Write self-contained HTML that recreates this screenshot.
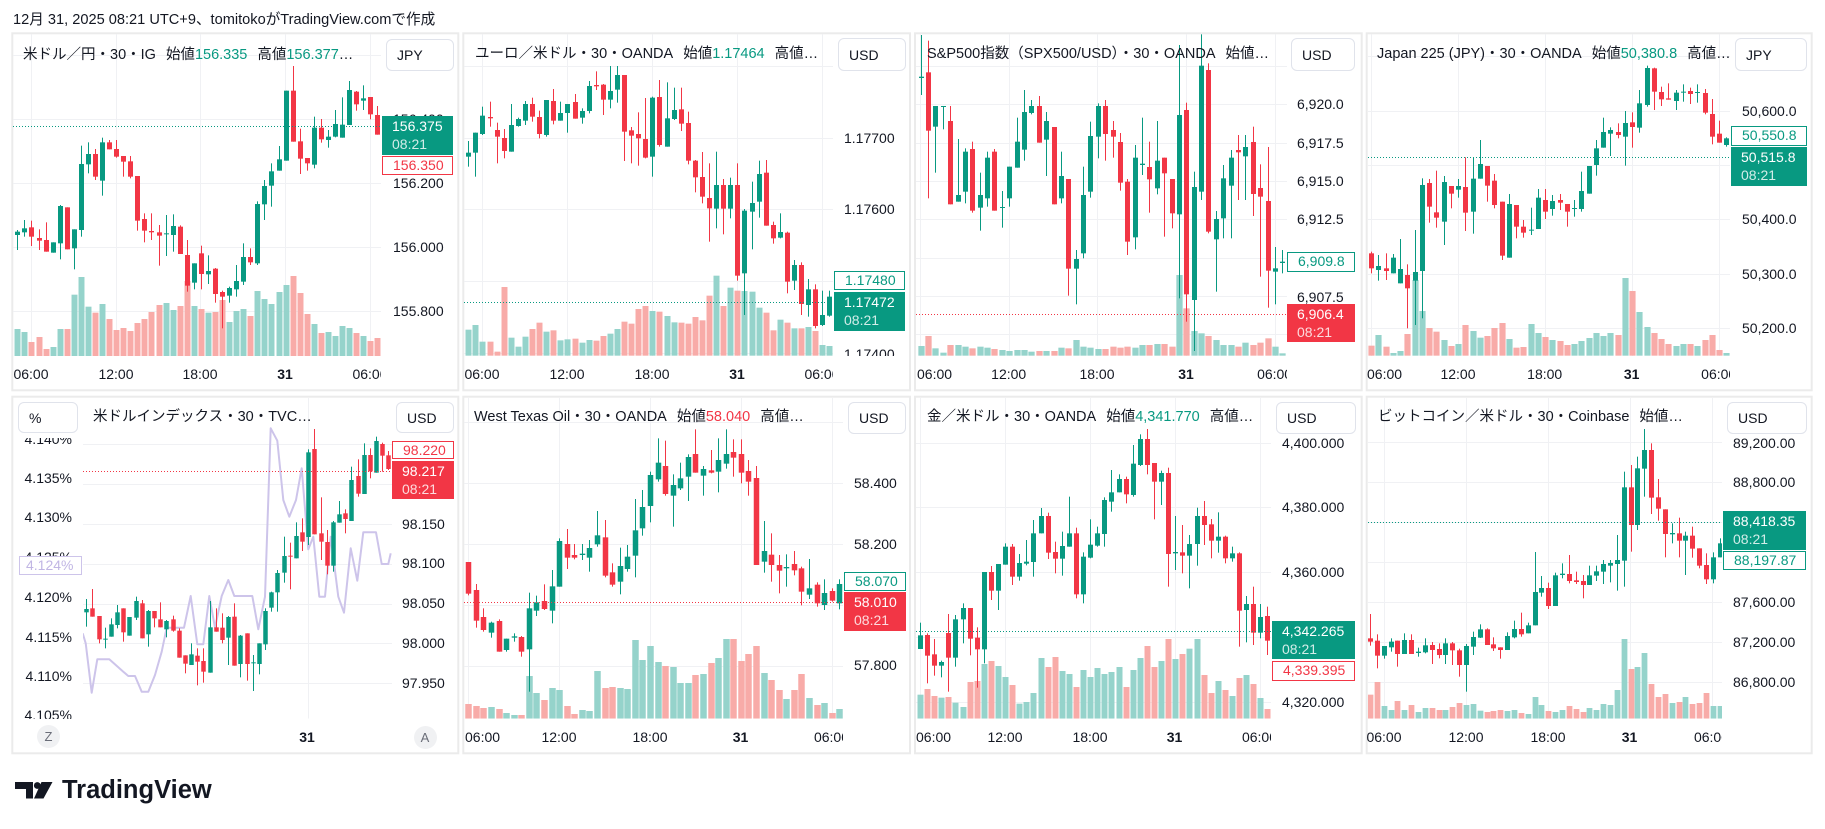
<!DOCTYPE html>
<html><head><meta charset="utf-8">
<style>
*{box-sizing:border-box}
body{margin:0;width:1825px;height:829px;position:relative;overflow:hidden;background:#fff;font-family:"Liberation Sans","Noto Sans CJK JP",sans-serif;color:#131722}
.a{position:absolute;white-space:nowrap}
.t{font-size:14px;line-height:16px}
.tt{position:absolute;white-space:nowrap;font-size:14.5px;line-height:16px;color:#131722}
.g{color:#089981}.r{color:#f23645}
.sp{display:inline-block;width:10px}
.cb{position:absolute;background:#fff;border:1px solid #e0e3eb;border-radius:6px;font-size:14px;line-height:16px;padding-left:10px;display:flex;align-items:center}
.clip{position:absolute;overflow:hidden}
.clip div{position:absolute;white-space:nowrap;font-size:14px;line-height:16px}
.tm div{width:60px;text-align:center}
.pb{position:absolute;font-size:14px;line-height:18px;padding-left:10px;white-space:nowrap}
.fill{color:#fff;padding-top:1px}
.fill span{color:rgba(255,255,255,.82)}
.ol{background:#fff;line-height:17px}
.zc{position:absolute;width:23px;height:23px;border-radius:50%;background:#f0f1f3;color:#6a6d78;font-size:13px;line-height:23px;text-align:center}
</style></head>
<body>
<svg id="c" class="a" style="left:0;top:0" width="1825" height="829" xmlns="http://www.w3.org/2000/svg">
<defs id="df"></defs>
<g fill="none" stroke="#ebebeb" stroke-width="2">
<rect x="12.3" y="33.3" width="446" height="357"/>
<rect x="463.3" y="33.3" width="446.7" height="357"/>
<rect x="915" y="33.3" width="446.7" height="357"/>
<rect x="1366.7" y="33.3" width="445" height="357"/>
<rect x="12.3" y="396.7" width="446" height="356.6"/>
<rect x="463.3" y="396.7" width="446.7" height="356.6"/>
<rect x="915" y="396.7" width="446.7" height="356.6"/>
<rect x="1366.7" y="396.7" width="445" height="356.6"/>
</g>
</svg>

<div class="a t" style="left:13px;top:12px;font-size:14.6px">12月 31, 2025 08:21 UTC+9、tomitokoがTradingView.comで作成</div>

<!-- titles -->
<div class="tt" style="left:23px;top:46.5px">米ドル／円・30・IG<span class="sp"></span>始値<span class="g">156.335</span><span class="sp"></span>高値<span class="g">156.377</span>…</div>
<div class="tt" style="left:475px;top:46px">ユーロ／米ドル・30・OANDA<span class="sp"></span>始値<span class="g">1.17464</span><span class="sp"></span>高値…</div>
<div class="tt" style="left:927px;top:46px">S&amp;P500指数（SPX500/USD）・30・OANDA<span class="sp"></span>始値…</div>
<div class="tt" style="left:1377px;top:46px">Japan 225 (JPY)・30・OANDA<span class="sp"></span>始値<span class="g">50,380.8</span><span class="sp"></span>高値…</div>
<div class="tt" style="left:93px;top:409px">米ドルインデックス・30・TVC…</div>
<div class="tt" style="left:474px;top:409px">West Texas Oil・30・OANDA<span class="sp"></span>始値<span class="r">58.040</span><span class="sp"></span>高値…</div>
<div class="tt" style="left:927px;top:409px">金／米ドル・30・OANDA<span class="sp"></span>始値<span class="g">4,341.770</span><span class="sp"></span>高値…</div>
<div class="tt" style="left:1378px;top:409px">ビットコイン／米ドル・30・Coinbase<span class="sp"></span>始値…</div>

<!-- currency boxes -->
<div class="cb" style="left:386px;top:39px;width:68px;height:32px">JPY</div>
<div class="cb" style="left:838px;top:38px;width:68px;height:33px">USD</div>
<div class="cb" style="left:1291px;top:38px;width:64px;height:33px">USD</div>
<div class="cb" style="left:1735px;top:38px;width:72px;height:33px">JPY</div>
<div class="cb" style="left:18px;top:402px;width:60px;height:31px">%</div>
<div class="cb" style="left:396px;top:402px;width:58px;height:31px">USD</div>
<div class="cb" style="left:848px;top:402px;width:58px;height:32px">USD</div>
<div class="cb" style="left:1276px;top:402px;width:80px;height:32px">USD</div>
<div class="cb" style="left:1727px;top:402px;width:80px;height:32px">USD</div>

<!-- price axis labels -->
<div class="clip" style="left:382px;top:74px;width:76px;height:282px">
<div style="left:11px;top:36.7px">156.400</div><div style="left:11px;top:100.7px">156.200</div><div style="left:11px;top:164.7px">156.000</div><div style="left:11px;top:228.7px">155.800</div></div>
<div class="clip" style="left:834px;top:74px;width:76px;height:282px">
<div style="left:10px;top:55.7px">1.17700</div><div style="left:10px;top:127.3px">1.17600</div><div style="left:10px;top:199px">1.17500</div><div style="left:10px;top:272px">1.17400</div></div>
<div class="clip" style="left:1288px;top:74px;width:74px;height:282px">
<div style="left:9px;top:22.3px">6,920.0</div><div style="left:9px;top:60.7px">6,917.5</div><div style="left:9px;top:99px">6,915.0</div><div style="left:9px;top:137.3px">6,912.5</div><div style="left:9px;top:175.7px">6,910.0</div><div style="left:9px;top:214.7px">6,907.5</div></div>
<div class="clip" style="left:1731px;top:74px;width:81px;height:282px">
<div style="left:11px;top:28.7px">50,600.0</div><div style="left:11px;top:83px">50,500.0</div><div style="left:11px;top:137.3px">50,400.0</div><div style="left:11px;top:191.7px">50,300.0</div><div style="left:11px;top:246px">50,200.0</div></div>
<div class="clip" style="left:393px;top:438px;width:65px;height:280.5px">
<div style="left:9px;top:78.3px">98.150</div><div style="left:9px;top:117.3px">98.100</div><div style="left:9px;top:157.3px">98.050</div><div style="left:9px;top:197.3px">98.000</div><div style="left:9px;top:237.3px">97.950</div></div>
<div class="clip" style="left:13px;top:438px;width:70px;height:280.5px">
<div style="right:11px;top:-7px">4.140%</div><div style="right:11px;top:31.7px">4.135%</div><div style="right:11px;top:71.3px">4.130%</div><div style="right:11px;top:111px">4.125%</div><div style="right:11px;top:150.7px">4.120%</div><div style="right:11px;top:190.7px">4.115%</div><div style="right:11px;top:230px">4.110%</div><div style="right:11px;top:269px">4.105%</div></div>
<div class="clip" style="left:844px;top:438px;width:66px;height:280.5px">
<div style="left:10px;top:37.3px">58.400</div><div style="left:10px;top:98.3px">58.200</div><div style="left:10px;top:159px">58.000</div><div style="left:10px;top:219.3px">57.800</div></div>
<div class="clip" style="left:1272px;top:438px;width:90px;height:280.5px">
<div style="left:10px;top:-3.3px">4,400.000</div><div style="left:10px;top:61.3px">4,380.000</div><div style="left:10px;top:126.3px">4,360.000</div><div style="left:10px;top:191px">4,340.000</div><div style="left:10px;top:255.7px">4,320.000</div></div>
<div class="clip" style="left:1723px;top:438px;width:89px;height:280.5px">
<div style="left:10px;top:-3.3px">89,200.00</div><div style="left:10px;top:36.3px">88,800.00</div><div style="left:10px;top:76px">88,400.00</div><div style="left:10px;top:116px">88,000.00</div><div style="left:10px;top:155.7px">87,600.00</div><div style="left:10px;top:195.7px">87,200.00</div><div style="left:10px;top:235.7px">86,800.00</div></div>

<!-- time labels -->
<div class="clip tm" style="left:12px;top:365.5px;width:369px;height:18px">
<div style="left:-11px">06:00</div><div style="left:74px">12:00</div><div style="left:158px">18:00</div><div style="left:243px;font-weight:bold">31</div><div style="left:328px">06:00</div></div>
<div class="clip tm" style="left:463px;top:366px;width:370px;height:18px">
<div style="left:-11px">06:00</div><div style="left:74px">12:00</div><div style="left:159px">18:00</div><div style="left:244px;font-weight:bold">31</div><div style="left:329px">06:00</div></div>
<div class="clip tm" style="left:915px;top:366px;width:372px;height:18px">
<div style="left:2px;text-align:left">06:00</div><div style="left:63.7px">12:00</div><div style="left:152px">18:00</div><div style="left:241px;font-weight:bold">31</div><div style="left:329.6px">06:00</div></div>
<div class="clip tm" style="left:1367px;top:366px;width:363px;height:18px">
<div style="left:0;text-align:left">06:00</div><div style="left:61px">12:00</div><div style="left:147.7px">18:00</div><div style="left:234.7px;font-weight:bold">31</div><div style="left:321.7px">06:00</div></div>
<div class="clip tm" style="left:83px;top:729px;width:309px;height:18px">
<div style="left:194px;font-weight:bold">31</div></div>
<div class="clip tm" style="left:463px;top:729px;width:380px;height:18px">
<div style="left:2px;text-align:left">06:00</div><div style="left:66px">12:00</div><div style="left:157px">18:00</div><div style="left:247.5px;font-weight:bold">31</div><div style="left:338.5px">06:00</div></div>
<div class="clip tm" style="left:916px;top:729px;width:355px;height:18px">
<div style="left:0;text-align:left">06:00</div><div style="left:59px">12:00</div><div style="left:144px">18:00</div><div style="left:228.5px;font-weight:bold">31</div><div style="left:313.5px">06:00</div></div>
<div class="clip tm" style="left:1367px;top:729px;width:355px;height:18px">
<div style="left:-13px">06:00</div><div style="left:69px">12:00</div><div style="left:151px">18:00</div><div style="left:232.5px;font-weight:bold">31</div><div style="left:314.5px">06:00</div></div>

<div class="zc" style="left:37px;top:725px">Z</div>
<div class="zc" style="left:413.5px;top:725.5px">A</div>

<!-- price boxes -->
<div class="pb fill" style="left:382px;top:116px;width:71px;height:39px;background:#089981">156.375<br><span>08:21</span></div>
<div class="pb ol" style="left:382px;top:156px;width:71px;height:19px;border:1px solid #f23645;color:#f23645">156.350</div>
<div class="pb ol" style="left:834px;top:271px;width:71px;height:19px;border:1px solid #089981;color:#089981">1.17480</div>
<div class="pb fill" style="left:834px;top:292px;width:71px;height:39px;background:#089981">1.17472<br><span>08:21</span></div>
<div class="pb ol" style="left:1287px;top:252px;width:68px;height:20px;border:1px solid #089981;color:#089981">6,909.8</div>
<div class="pb fill" style="left:1287px;top:304px;width:68px;height:38px;background:#f23645">6,906.4<br><span>08:21</span></div>
<div class="pb ol" style="left:1731px;top:126px;width:76px;height:20px;border:1px solid #089981;color:#089981">50,550.8</div>
<div class="pb fill" style="left:1731px;top:147px;width:76px;height:39px;background:#089981">50,515.8<br><span>08:21</span></div>
<div class="pb ol" style="left:392px;top:441px;width:62px;height:18px;border:1px solid #f23645;color:#f23645;line-height:16px">98.220</div>
<div class="pb fill" style="left:392px;top:461px;width:62px;height:38px;background:#f23645">98.217<br><span>08:21</span></div>
<div class="pb ol" style="left:19px;top:556px;width:63px;height:19px;border:1px solid #cdc4ea;color:#c1b6e4;padding-left:6px">4.124%</div>
<div class="pb ol" style="left:844px;top:572px;width:62px;height:19px;border:1px solid #089981;color:#089981">58.070</div>
<div class="pb fill" style="left:844px;top:592px;width:62px;height:39px;background:#f23645">58.010<br><span>08:21</span></div>
<div class="pb fill" style="left:1272px;top:621px;width:83px;height:38px;background:#089981">4,342.265<br><span>08:21</span></div>
<div class="pb ol" style="left:1272px;top:661px;width:83px;height:20px;border:1px solid #f23645;color:#f23645">4,339.395</div>
<div class="pb fill" style="left:1723px;top:511px;width:83px;height:39px;background:#089981">88,418.35<br><span>08:21</span></div>
<div class="pb ol" style="left:1723px;top:551px;width:83px;height:19px;border:1px solid #089981;color:#089981">88,197.87</div>

<!-- logo -->
<svg class="a" style="left:15px;top:782px" width="40" height="17" xmlns="http://www.w3.org/2000/svg">
<path d="M0 0H18V16.5H11V7H0Z" fill="#131722"/><circle cx="22.3" cy="3.5" r="3.4" fill="#131722"/><path d="M26.5 0H37.5L28.5 16.5H19Z" fill="#131722"/></svg>
<div class="a" style="left:62px;top:777.5px;font-size:25.5px;line-height:25px;font-weight:bold;color:#131722">TradingView</div>

<script>
(function(){
const NS='http://www.w3.org/2000/svg';
const svg=document.getElementById('c');
const defs=document.getElementById('df');
function el(tag,a,par){const e=document.createElementNS(NS,tag);for(const k in a)e.setAttribute(k,a[k]);(par||svg).appendChild(e);return e;}
const G='#089981',R='#f23645',VG='#95d3cb',VR='#f8aba8';
const P=[
{ox:0,oy:0,x0:52,st:21.18,bw:5,vb:1068,clip:[13,34,381,356.3],
hg:[54.7,118.7,182.7,246.7,310.7],vg:[31,116,200,285,370],dl:[126,G],
c:`g695,705,690,750 g685,697,660,710 r682,710,662,738 r714,722,688,750 r720,755,667,755 g727,758,727,758 g618,730,615,778 r622,748,622,748 g688,745,688,808 g492,690,437,710 g462,493,427,520 r462,530,447,540 g427,542,413,587 r427,448,420,448 r447,470,420,473 r468,485,468,530 r484,530,468,535 r528,662,528,692 r657,692,640,727 r693,697,640,720 r697,707,675,797 g700,702,645,768 g678,705,643,755 r680,762,676,762 r765,857,720,875 g790,848,790,868 r760,822,737,868 g813,823,766,852 r806,882,804,908 r876,890,872,985 g864,887,860,908 g843,868,795,890 g771,845,730,855 r771,787,745,795 g612,790,604,795 g558,613,540,660 g514,557,490,620 g478,512,438,512 g272,482,272,482 r272,425,198,425 r424,476,386,522 r474,490,474,512 g383,494,350,505 r383,418,357,428 g410,420,390,443 g372,410,330,412 g374,413,292,413 g270,375,243,375 r275,313,273,332 g295,302,256,330 r291,343,291,358 r345,404,318,404`,
v:`987 996 1026 1011 1047 1041 987 987 884 831 920 938 912 957 990 984 993 969 957 936 915 909 930 918 843 918 927 938 936 900 966 933 927 948 873 897 912 876 855 828 879 942 972 999 996 1008 978 984 999 1008 1023 1014`},
{ox:440,oy:25,x0:85,st:21.24,bw:5,vb:992,clip:[464,34,833,356],
hg:[66,137.7,209.3,281,352.7],vg:[482,567,652,737,822],dl:[302.3,G],
c:`g383,395,348,425 g323,383,323,455 g272,327,245,330 r276,280,230,305 r315,335,293,415 r339,378,312,400 g300,380,237,380 g282,303,278,305 g237,287,228,300 r237,275,218,290 r276,327,257,340 g225,330,225,335 r228,287,192,298 g264,287,230,287 g237,264,237,323 r231,281,207,281 g258,278,250,296 g183,258,168,265 r180,184,139,195 r179,224,177,270 g198,224,123,250 g150,194,123,233 r150,320,150,408 r316,332,306,415 r327,340,262,422 r342,398,219,400 g218,395,215,455 r216,360,165,365 g280,365,172,365 g255,282,188,285 r253,296,188,318 r294,407,260,418 r407,457,405,502 r456,515,381,535 r519,550,415,650 g480,551,380,610 r480,551,462,628 g480,551,458,580 r480,752,415,767 g557,745,552,870 g534,560,470,673 g447,530,407,578 r443,602,405,602 r600,640,590,656 g621,638,565,640 r623,770,620,805 g720,767,705,795 r720,837,712,870 g793,840,762,875 r793,903,778,910 g870,900,797,903 g815,872,797,875`,
v:`914 900 950 950 980 786 938 965 935 912 893 920 916 946 943 941 953 945 947 933 926 912 890 896 852 843 858 860 873 892 893 896 876 886 812 752 843 788 797 798 800 848 863 916 884 893 910 910 906 918 960 963`},
{ox:900,oy:25,x0:62,st:22.14,bw:5,vb:992,clip:[916,34,1287,356],
hg:[66,104.3,142.7,181,219.3,257.7,296,334.3],vg:[920.4,1008.7,1097,1186,1274.6],dl:[314,R],
c:`g155,159,30,210 r142,317,47,520 g243,305,243,443 g243,246,243,313 r288,538,243,538 g510,530,342,530 g380,500,370,535 r372,557,350,563 g510,548,443,617 g398,520,380,545 r380,557,372,557 g546,549,498,608 g425,520,425,545 g350,428,278,428 g261,374,195,407 g243,264,225,268 r243,353,213,353 g288,344,261,453 r306,538,306,538 g453,520,380,535 r462,731,462,812 g702,731,675,838 g510,685,425,700 g333,500,290,518 g243,335,235,400 r243,327,225,407 r315,335,288,398 r351,473,324,497 r470,650,462,690 g398,637,360,673 g416,420,278,450 r426,463,350,563 g407,490,288,508 r398,445,398,635 r462,565,462,610 g270,568,60,820 r255,808,233,890 g486,825,440,978 g122,500,28,525 r135,620,115,625 g582,643,558,800 g460,580,420,640 g398,482,375,640 r375,382,330,525 g366,394,330,525 r351,507,305,573 r489,515,418,755 r528,737,366,848 g730,740,666,838 g710,714,675,745`,
v:`963 933 970 983 960 960 965 970 965 968 972 975 978 975 975 980 978 978 978 968 970 945 965 968 972 972 965 968 965 968 960 960 957 957 965 750 850 918 925 933 945 960 960 965 953 960 953 940 965 985`},
{ox:1360,oy:25,x0:33,st:21.76,bw:5,vb:992,clip:[1368,34,1730,356],
hg:[56.3,110.7,165,219.3,273.7,328],vg:[1371,1458,1544.7,1631.7,1718.7],dl:[157.3,G],
c:`r685,730,680,745 g723,735,690,767 r730,738,685,765 g698,745,687,745 g732,775,642,775 r750,790,718,910 g741,767,615,900 g480,738,460,880 r474,545,462,593 r562,578,437,608 g471,590,453,660 r483,506,483,550 g483,494,462,518 r486,563,397,618 g461,560,397,626 g417,461,345,461 r423,482,423,530 r467,540,447,550 r530,692,530,705 g537,698,507,698 r540,605,540,640 r605,623,585,638 g614,617,548,630 g518,612,492,612 r525,560,492,582 g528,552,510,572 r525,533,507,555 r537,560,537,605 g549,552,525,575 g498,552,440,560 g423,506,423,506 g370,420,345,452 g321,368,278,368 g315,326,307,393 r321,330,295,340 g294,335,258,422 r292,306,262,368 g235,308,195,323 g129,240,122,245 r130,200,128,255 r201,223,185,243 r220,224,175,224 g203,228,195,255 g200,203,178,230 r198,207,188,237 g201,204,178,233 r204,263,192,268 r267,335,222,358 r326,353,287,353 g340,360,337,365`,
v:`962 930 965 984 978 927 765 858 909 920 945 963 957 900 918 938 933 909 894 942 968 966 897 924 936 945 948 960 957 948 939 924 933 924 930 759 798 861 906 924 942 957 963 957 957 963 945 930 975 984`},
{ox:0,oy:390,x0:259,st:18.49,bw:4.5,vb:0,clip:[83,398,392,718.6],
hg:[444.3,484.3,524.3,564.3,604.3,643.3,683.3],vg:[308],dl:[471,R],
c:`g657,667,627,710 r655,680,597,680 r678,748,678,760 g746,749,713,775 g703,740,685,740 g667,705,645,715 r655,727,655,755 g681,737,681,737 g633,683,620,690 r640,745,630,745 g663,733,660,770 r663,685,663,712 r688,712,637,712 g693,718,690,742 r688,722,677,725 r722,803,715,803 r796,821,796,850 g793,825,760,825 r797,815,775,886 r813,845,775,878 g712,848,633,848 r712,725,655,725 r713,750,670,760 g681,743,678,825 r680,827,640,827 g737,822,735,862 r730,822,730,872 g817,820,795,903 g760,822,760,853 g663,763,655,780 g607,653,605,665 g549,607,540,665 g498,548,440,578 r497,500,458,598 g438,505,397,505 r427,455,385,483 g187,441,178,465 r177,433,117,433 r430,455,322,510 r456,527,420,553 g397,527,393,545 g373,398,333,398 r370,387,358,430 g270,393,230,393 r258,311,208,320 g195,312,160,312 r195,244,175,265 g153,248,140,248 r162,197,158,245 r196,237,183,240`,
v:'',
line:[248,730,257,760,275,908,292,808,328,808,370,845,385,858,405,858,425,905,445,905,465,855,485,785,500,713,552,713,572,618,592,763,610,763,628,618,645,713,665,618,685,570,703,618,757,618,775,718,795,620,812,115,832,152,850,330,868,380,888,330,905,235,925,478,940,440,958,620,975,620,992,440,1015,620,1032,668,1052,475,1072,572,1090,427,1128,427,1145,522,1165,522,1172,490]},
{ox:450,oy:390,x0:55,st:22.71,bw:5.5,vb:986,clip:[464,398,843,718.6],
hg:[422.3,483.3,544.3,605.3,666.3],vg:[468,559,650,740.5,831.5],dl:[602.3,R],
c:`r516,611,516,616 r600,692,582,713 r681,720,655,725 g698,728,695,743 r693,785,688,785 g746,780,746,785 g739,743,730,755 r741,785,738,800 g655,778,608,905 g637,662,617,678 r633,657,583,660 g589,662,540,700 g453,590,445,590 r462,503,417,537 r495,503,462,508 g491,495,462,510 g474,503,450,545 g436,463,363,470 r442,557,390,562 r547,584,520,590 g528,575,473,613 g500,537,465,545 g421,497,327,562 g351,415,300,437 g255,348,245,397 g218,268,145,275 r228,312,152,317 g285,317,253,410 g265,295,218,300 g201,260,193,333 r192,248,118,248 g237,257,228,317 r241,248,180,250 g210,245,145,307 g192,221,118,236 r186,203,148,260 r192,248,148,280 r243,275,210,317 r264,525,228,525 g483,515,393,548 r494,525,430,575 r525,542,495,610 g531,535,493,590 r522,541,483,556 r535,605,530,646 g595,614,507,627 r584,640,577,650 g609,645,568,660 r603,632,595,635 g582,640,568,658`,
v:`942 948 954 951 957 969 975 975 858 909 930 894 900 948 972 960 963 843 894 891 894 897 750 810 768 816 828 831 879 879 855 852 819 804 747 747 813 792 768 849 870 900 927 900 852 924 945 939 969 957`},
{ox:905,oy:390,x0:45,st:21.27,bw:5,vb:986,clip:[916,398,1271,718.6],
hg:[442.7,507.3,572.3,637.3,702],vg:[920,1005,1090,1174.5,1259.5],dl:[631,G],
c:`g736,777,698,777 r735,797,730,880 r793,827,747,857 g816,827,812,862 r729,803,672,905 g688,803,675,830 g654,688,640,760 r654,746,654,796 r743,778,712,893 g546,778,546,820 r546,602,528,630 g522,602,522,660 g470,524,460,524 r470,560,462,585 g519,560,492,572 g515,521,450,526 g430,516,390,560 g378,430,354,430 r378,488,368,507 r486,506,455,550 g468,506,425,557 g430,470,320,470 r430,613,413,625 g500,613,487,640 g464,503,388,505 g430,467,410,470 g330,432,322,470 g307,335,240,365 g267,307,253,307 r267,313,260,340 g221,315,165,320 g147,225,133,228 r147,225,117,253 r219,275,219,388 g249,275,242,345 r249,492,233,590 g486,490,378,540 r487,497,405,550 g462,497,435,595 g378,462,353,527 r378,405,333,465 r403,452,387,505 g440,452,367,488 r440,505,437,520 g490,505,470,515 r490,662,487,770 g642,660,618,757 r642,728,590,765 g681,728,642,745 r678,752,650,795`,
v:`914 897 918 923 921 938 951 876 873 822 813 828 861 885 941 936 909 804 831 801 843 852 891 840 861 834 852 846 831 891 840 804 768 831 813 747 807 792 776 747 855 909 873 900 918 864 855 882 924 957`},
{ox:1360,oy:390,x0:30,st:20.57,bw:5,vb:986,clip:[1368,398,1722,718.6],
hg:[442,482,522,562,602,642,682],vg:[1384,1466,1548,1629.5,1711.5],dl:[521.7,G],
c:`r745,755,672,767 r752,797,733,835 g768,797,768,806 g755,772,745,785 r752,792,752,830 g750,792,730,792 r750,792,733,792 g785,789,773,800 g766,787,745,790 r765,780,756,822 r777,795,760,805 g760,795,745,822 r760,781,756,825 r781,825,776,860 g768,825,762,905 g741,770,725,795 g718,743,703,744 r718,765,715,765 r763,775,742,783 r772,780,772,806 g738,780,727,780 g717,742,692,745 r717,733,668,740 g706,730,698,730 g606,706,486,706 g594,608,558,620 r594,648,578,657 g556,648,548,648 g551,555,520,565 r552,573,495,580 r571,576,545,582 r573,585,555,625 g556,585,527,585 g544,557,527,573 g522,545,510,582 g519,527,510,577 g510,522,435,602 g292,512,245,590 r292,405,225,485 g235,405,200,420 g180,236,117,320 r180,323,160,372 r322,356,267,392 r358,432,358,502 g429,433,400,460 r430,452,383,502 g437,452,425,555 r437,476,410,503 r475,527,475,535 r525,568,490,582 g502,568,487,580 g460,502,445,502`,
v:`914 876 948 960 933 960 945 966 954 954 960 960 951 939 945 942 962 966 963 960 963 960 969 972 921 945 963 966 960 948 957 966 954 960 942 945 900 747 837 831 789 882 921 912 939 936 921 942 939 909 948 948`}
];
P.forEach((p,i)=>{
  const [x1,y1,x2,y2]=p.clip;
  const cp=el('clipPath',{id:'cp'+i},defs);
  el('rect',{x:x1,y:y1,width:x2-x1,height:y2-y1},cp);
  const g=el('g',{'clip-path':'url(#cp'+i+')'});
  p.hg.forEach(y=>{const yy=Math.round(y)+.5;el('line',{x1:x1,x2:x2,y1:yy,y2:yy,stroke:'#f0f1f4','stroke-width':1},g);});
  p.vg.forEach(x=>{const xx=Math.round(x)+.5;el('line',{x1:xx,x2:xx,y1:y1,y2:y2,stroke:'#f0f1f4','stroke-width':1},g);});
  const cs=p.c.trim().split(/\s+/);
  const vs=p.v?p.v.trim().split(/\s+/).map(Number):[];
  const spx=p.st/3, vw=Math.max(3,spx-1.1);
  const cg=[];
  cs.forEach((s,k)=>{
    const col=s[0]==='g'?G:R;
    const [bt,bb,wt,wb]=s.slice(1).split(',').map(Number);
    const cx=Math.round(p.ox+(p.x0+k*p.st)/3);
    if(vs.length){
      const top=p.oy+vs[k]/3, bot=p.oy+p.vb/3;
      el('rect',{x:cx+.5-vw/2,y:top,width:vw,height:Math.max(0,bot-top),fill:s[0]==='g'?VG:VR},g);
    }
    cg.push([cx,col,bt,bb,wt,wb]);
  });
  if(p.line){
    const pts=[];for(let k=0;k<p.line.length;k+=2)pts.push((p.ox+p.line[k]/3).toFixed(1)+','+(p.oy+p.line[k+1]/3).toFixed(1));
    el('polyline',{points:pts.join(' '),fill:'none',stroke:'#cdc4ea','stroke-width':2,'stroke-linejoin':'round'},g);
  }
  cg.forEach(([cx,col,bt,bb,wt,wb])=>{
    el('rect',{x:cx,y:p.oy+wt/3,width:1,height:Math.max(1,(wb-wt)/3),fill:col},g);
    el('rect',{x:cx+.5-p.bw/2,y:p.oy+bt/3,width:p.bw,height:Math.max(1,(bb-bt)/3),fill:col},g);
  });
  const [dy,dc]=p.dl;const yy=Math.round(dy)+.5;
  el('line',{x1:x1,x2:x2,y1:yy,y2:yy,stroke:dc,'stroke-width':1,'stroke-dasharray':'1 2'},g);
});
})();
</script>
</body></html>
